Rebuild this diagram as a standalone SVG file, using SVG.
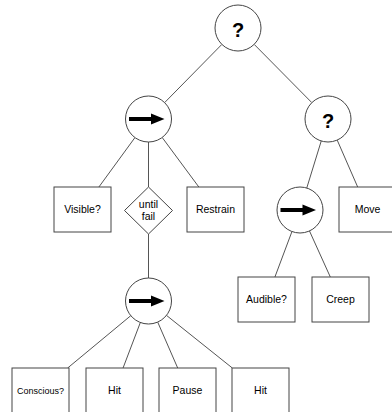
<svg xmlns="http://www.w3.org/2000/svg" xmlns:xlink="http://www.w3.org/1999/xlink" width="392" height="412" viewBox="0 0 392 412">
<style>
.bg{fill:#fff}
.node{fill:#fff;stroke:#444;stroke-width:1}
.edge{stroke:#555;stroke-width:1;fill:none}
.lbl{font-family:"Liberation Sans",Arial,sans-serif;font-size:10.5px;fill:#000;text-anchor:middle}
.small{font-size:9px}
.sel{font-family:"Liberation Sans",Arial,sans-serif;font-size:20px;font-weight:bold;fill:#000;text-anchor:middle}
.arrow{fill:#000}
</style>
<defs>
<path id="seqArrow" class="arrow" d="M-19.5,-2 H2.5 V-5.5 L16,0 L2.5,5.5 V2 H-19.5 Z"/>
</defs>
<rect class="bg" x="0" y="0" width="392" height="412"/>
<g id="connectors">
<line class="edge" x1="221.87" y1="44.4" x2="164.63" y2="102.6"/>
<line class="edge" x1="254.17" y1="44.35" x2="311.83" y2="102.65"/>
<line class="edge" x1="134.95" y1="137.58" x2="98.9" y2="187"/>
<line class="edge" x1="148.5" y1="142" x2="148.5" y2="187"/>
<line class="edge" x1="162.19" y1="137.49" x2="198.84" y2="187"/>
<line class="edge" x1="148.5" y1="234" x2="148.5" y2="278"/>
<line class="edge" x1="321.24" y1="140.98" x2="306.76" y2="188.02"/>
<line class="edge" x1="337.2" y1="140.08" x2="357.68" y2="187"/>
<line class="edge" x1="291.94" y1="231.54" x2="274.92" y2="277"/>
<line class="edge" x1="309.48" y1="230.95" x2="330.32" y2="277"/>
<line class="edge" x1="130.79" y1="315.67" x2="67.65" y2="368"/>
<line class="edge" x1="140.33" y1="322.5" x2="123.05" y2="368"/>
<line class="edge" x1="157.69" y1="322.08" x2="177.7" y2="368"/>
<line class="edge" x1="166.47" y1="315.36" x2="232.34" y2="368"/>
</g>
<g id="root-selector">
<circle class="node" cx="238" cy="28" r="23"/>
<text class="sel" x="238" y="36.5">?</text>
</g>
<g id="left-sequence">
<circle class="node" cx="148.5" cy="119" r="23"/>
<use xlink:href="#seqArrow" href="#seqArrow" x="148.5" y="119"/>
</g>
<g id="right-selector">
<circle class="node" cx="328" cy="119" r="23"/>
<text class="sel" x="328" y="127.5">?</text>
</g>
<g id="visible">
<rect class="node" x="54" y="187" width="57" height="45"/>
<text class="lbl" x="82.5" y="213.3">Visible?</text>
</g>
<g id="until-fail">
<polygon class="node" points="148.5,187 172.5,210.5 148.5,234 124.5,210.5"/>
<text class="lbl" x="148.5" y="208">until</text>
<text class="lbl" x="148.5" y="220">fail</text>
</g>
<g id="restrain">
<rect class="node" x="187" y="187" width="57" height="45"/>
<text class="lbl" x="215.5" y="213.3">Restrain</text>
</g>
<g id="right-sequence">
<circle class="node" cx="300" cy="210" r="23"/>
<use xlink:href="#seqArrow" href="#seqArrow" x="300" y="210"/>
</g>
<g id="move">
<rect class="node" x="339" y="187" width="57" height="45"/>
<text class="lbl" x="367.5" y="213.3">Move</text>
</g>
<g id="audible">
<rect class="node" x="238" y="277" width="57" height="45"/>
<text class="lbl" x="266.5" y="303.3">Audible?</text>
</g>
<g id="creep">
<rect class="node" x="312" y="277" width="57" height="45"/>
<text class="lbl" x="340.5" y="303.3">Creep</text>
</g>
<g id="bottom-sequence">
<circle class="node" cx="148.5" cy="301" r="23"/>
<use xlink:href="#seqArrow" href="#seqArrow" x="148.5" y="301"/>
</g>
<g id="conscious">
<rect class="node" x="12" y="368" width="57" height="50"/>
<text class="lbl small" x="40.5" y="394">Conscious?</text>
</g>
<g id="hit1">
<rect class="node" x="86" y="368" width="57" height="50"/>
<text class="lbl" x="114.5" y="394.3">Hit</text>
</g>
<g id="pause">
<rect class="node" x="159" y="368" width="57" height="50"/>
<text class="lbl" x="187.5" y="394.3">Pause</text>
</g>
<g id="hit2">
<rect class="node" x="232" y="368" width="57" height="50"/>
<text class="lbl" x="260.5" y="394.3">Hit</text>
</g>
</svg>
